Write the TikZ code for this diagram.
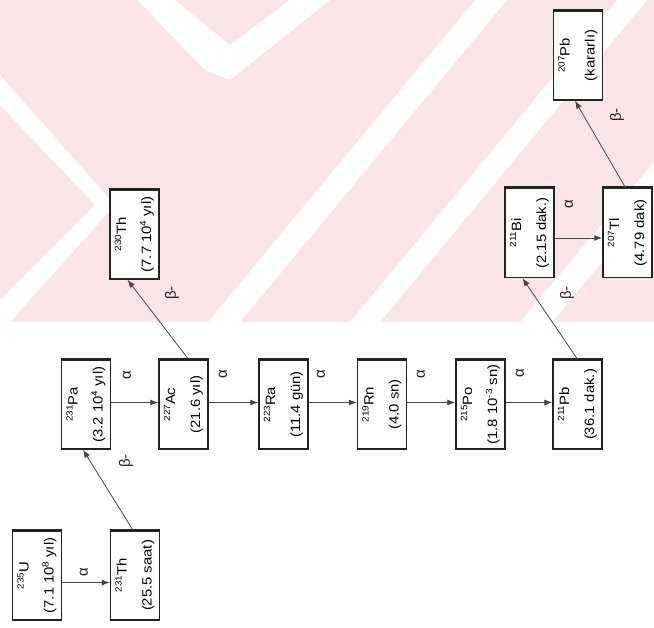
\documentclass[tikz,border=0pt]{standalone}
\usepackage{fontspec}
\setmainfont{Liberation Sans}
\newfontfamily\boxfont[FakeStretch=1.1]{Liberation Sans}
\usetikzlibrary{arrows.meta}
\definecolor{wmpink}{RGB}{251,228,231}
\definecolor{ink}{RGB}{35,35,35}
\definecolor{arr}{RGB}{70,70,70}
\newcommand{\iso}[2]{\raisebox{5pt}{\fontsize{9}{9}\selectfont #1}#2}
\tikzset{
  nuc/.style={draw=ink, line width=1.5pt, rotate=90, minimum width=89pt, minimum height=49pt,
    inner sep=0pt, align=center, fill=white, font=\boxfont\fontsize{13.5}{25}\selectfont},
  decay/.style={draw=arr, line width=0.8pt, -{Latex[length=8pt,width=6pt]}},
  lab/.style={rotate=90, font=\fontsize{15}{15}\selectfont, text=ink, inner sep=0pt},
  stripe/.style={fill=white, draw=none}
}
\begin{document}
\begin{tikzpicture}[x=1pt, y=-1pt]
\useasboundingbox (0,0) rectangle (654,628);
\fill[white] (0,0) rectangle (654,628);
% watermark
\fill[wmpink] (0,0) rectangle (654,322);
\fill[stripe] (137,0) -- (175,0) -- (230,45) -- (205,70) -- cycle;
\fill[stripe] (205,70) -- (230,45) -- (290,0) -- (330,0) -- (230,80) -- cycle;
\fill[stripe] (0,75) -- (0,105) -- (95,205) -- (0,300) -- (0,322) -- (10,322) -- (115,205) -- cycle;
\fill[stripe] (208,322) -- (240,322) -- (507,0) -- (475,0) -- cycle;
\fill[stripe] (350,322) -- (380,322) -- (647,0) -- (617,0) -- cycle;
\fill[stripe] (520,322) -- (552,322) -- (654,200) -- (654,162) -- cycle;
% nodes
\node[nuc] (U235)  at (37,575.5)  {\iso{235}{U}\\(7.1 10\iso{8}{} yıl)};
\node[nuc] (Th231) at (135,575.5) {\iso{231}{Th}\\(25.5 saat)};
\node[nuc] (Pa231) at (86,404.5)  {\iso{231}{Pa}\\(3.2 10\iso{4}{} yıl)};
\node[nuc] (Ac227) at (183.5,404.5) {\iso{227}{Ac}\\(21.6 yıl)};
\node[nuc] (Ra223) at (283.5,404.5) {\iso{223}{Ra}\\(11.4 gün)};
\node[nuc] (Rn219) at (382,404.5) {\iso{219}{Rn}\\(4.0 sn)};
\node[nuc] (Po215) at (480.5,404.5) {\iso{215}{Po}\\(1.8 10\iso{-3}{} sn)};
\node[nuc] (Pb211) at (577.5,404.5) {\iso{211}{Pb}\\(36.1 dak.)};
\node[nuc] (Th230) at (134.5,234.5) {\iso{230}{Th}\\(7.7 10\iso{4}{} yıl)};
\node[nuc] (Bi211) at (529.5,233) {\iso{211}{Bi}\\(2.15 dak.)};
\node[nuc] (Tl207) at (627.5,233) {\iso{207}{Tl}\\(4.79 dak)};
\node[nuc] (Pb207) at (578,55.5) {\iso{207}{Pb}\\(kararlı)};
% thicker top edges
\foreach \n in {U235,Th231,Pa231,Ac227,Ra223,Rn219,Po215,Pb211,Th230,Bi211,Tl207,Pb207}
  \draw[ink, line width=2.6pt] (\n.north east) -- (\n.south east);
% decays
\draw[decay] ([yshift=-7pt]U235.south) -- ([yshift=-7pt]Th231.north);
\draw[decay] ([xshift=-2pt]Th231.east) -- ([xshift=-3pt]Pa231.west);
\draw[decay] ([yshift=2pt]Pa231.south) -- ([yshift=2pt]Ac227.north);
\draw[decay] ([xshift=5pt]Ac227.east) -- ([xshift=-7pt]Th230.west);
\draw[decay] ([yshift=2pt]Ac227.south) -- ([yshift=2pt]Ra223.north);
\draw[decay] ([yshift=2pt]Ra223.south) -- ([yshift=2pt]Rn219.north);
\draw[decay] ([yshift=2pt]Rn219.south) -- ([yshift=2pt]Po215.north);
\draw[decay] ([yshift=2pt]Po215.south) -- ([yshift=2pt]Pb211.north);
\draw[decay] (Pb211.east) -- ([xshift=-7pt]Bi211.west);
\draw[decay] ([yshift=-5pt]Bi211.south) -- ([yshift=-5pt]Tl207.north);
\draw[decay] ([xshift=-2pt]Tl207.east) -- ([xshift=-3pt]Pb207.west);
% labels
\node[lab] (a1) at (84,572) {α};
\node[lab] (a2) at (127,375) {α};
\node[lab] (a3) at (223,374) {α};
\node[lab] (a4) at (321,374) {α};
\node[lab] (a5) at (421,374) {α};
\node[lab] (a6) at (520,373) {α};
\node[lab] (a7) at (569,204) {α};
\node[lab] (b1) at (126,461) {β-};
\node[lab] (b2) at (172,293) {β-};
\node[lab] (b3) at (567,293) {β-};
\node[lab] (b4) at (617,115) {β-};
\end{tikzpicture}
\end{document}
